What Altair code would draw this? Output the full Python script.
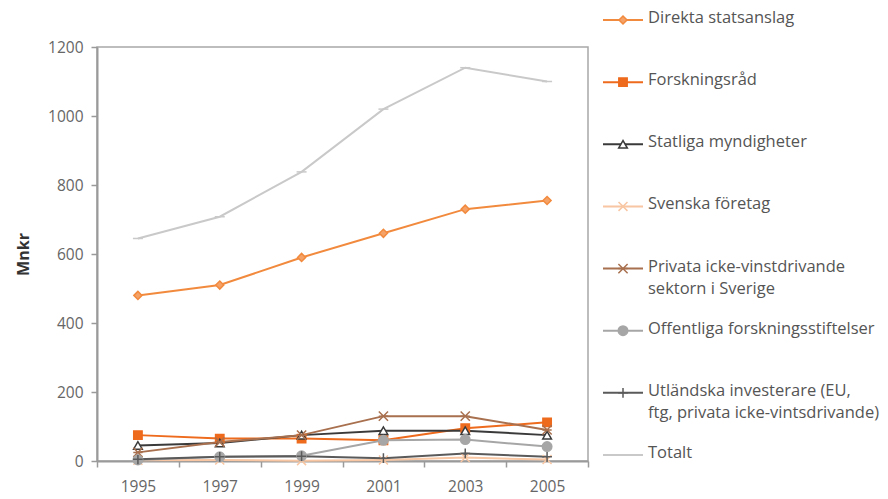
import altair as alt
import pandas as pd

years = [1995, 1997, 1999, 2001, 2003, 2005]

series_names = [
    "Direkta statsanslag",
    "Forskningsråd",
    "Statliga myndigheter",
    "Svenska företag",
    "Privata icke-vinstdrivande sektorn i Sverige",
    "Offentliga forskningsstiftelser",
    "Utländska investerare (EU, ftg, privata icke-vintsdrivande)",
    "Totalt",
]
legend_labels = [
    "Direkta statsanslag",
    "Forskningsråd",
    "Statliga myndigheter",
    "Svenska företag",
    "Privata icke-vinstdrivande\nsektorn i Sverige",
    "Offentliga forskningsstiftelser",
    "Utländska investerare (EU,\nftg, privata icke-vintsdrivande)",
    "Totalt",
]

direkta = [480, 510, 590, 660, 730, 755]
forskningsrad = [75, 65, 65, 60, 95, 112]
statliga = [45, 52, 75, 88, 88, 75]
svenska = [2, 3, 1, 3, 10, 4]
privata = [25, 55, 75, 130, 130, 90]
offentliga = [3, 12, 15, 60, 62, 42]
utlandska = [5, 12, 14, 8, 22, 12]
totalt = [645, 708, 838, 1020, 1140, 1100]

values = [direkta, forskningsrad, statliga, svenska, privata, offentliga, utlandska, totalt]

line_colors = ["#F28A3E", "#EE6A1C", "#3A3A3A", "#F8C6A2", "#A8704E", "#A6A6A6", "#5A5A5A", "#C9C9C9"]
fill_colors = ["#F5A268", "#EE6A1C", "#FFFFFF", "#F8C6A2", "#A8704E", "#A6A6A6", "#5A5A5A", "#C9C9C9"]
x_path = "M-1,-1L1,1M-1,1L1,-1"
x_star = "M-1,-1L1,1M-1,1L1,-1M-1,0L1,0"
plus_path = "M0,-1L0,1M-1,0L1,0"
dash_path = "M-1,0L1,0"
shapes = ["diamond", "square", "triangle-up", x_path, x_star, "circle", plus_path, dash_path]
marker_sizes = [65, 100, 50, 40, 45, 55, 50, 30]
line_widths = [2, 2, 1.6, 1.5, 2, 1.6, 1.6, 1.5]

rows = []
for name, vals in zip(series_names, values):
    for y, v in zip(years, vals):
        rows.append({"year": y, "value": v, "series": name})
df = pd.DataFrame(rows)

leg_df = pd.DataFrame({"series": series_names, "label": legend_labels})

color_scale = alt.Scale(domain=series_names, range=line_colors)
fill_scale = alt.Scale(domain=series_names, range=fill_colors)
shape_scale = alt.Scale(domain=series_names, range=shapes)
size_pt_scale = alt.Scale(domain=series_names, range=marker_sizes)
width_scale = alt.Scale(domain=series_names, range=line_widths)

x_enc = alt.X(
    "year:Q",
    scale=alt.Scale(domain=[1994, 2006], nice=False, zero=False),
    axis=alt.Axis(
        values=list(range(1994, 2007)),
        format="d",
        labelExpr="datum.value % 2 == 1 ? datum.label : ''",
        tickOpacity={"condition": {"test": "datum.value % 2 == 0", "value": 1}, "value": 0},
        title=None,
        grid=False,
        tickSize=6,
        labelPadding=12,
        labelOverlap=False,
    ),
)
y_enc = alt.Y(
    "value:Q",
    scale=alt.Scale(domain=[0, 1200], nice=False),
    axis=alt.Axis(
        values=[0, 200, 400, 600, 800, 1000, 1200],
        format="d",
        title="Mnkr",
        grid=False,
        tickSize=6,
        labelPadding=8,
        titlePadding=16,
        titleFontWeight="bold",
        titleFontSize=16,
        titleColor="#333333",
    ),
)

base = alt.Chart(df)
lines = base.mark_line().encode(
    x=x_enc,
    y=y_enc,
    color=alt.Color("series:N", scale=color_scale, legend=None),
    strokeWidth=alt.StrokeWidth("series:N", scale=width_scale, legend=None),
    detail="series:N",
)
points = base.mark_point(opacity=1, strokeWidth=1.5).encode(
    x=alt.X("year:Q"),
    y=alt.Y("value:Q"),
    stroke=alt.Stroke("series:N", scale=color_scale, legend=None),
    fill=alt.Fill("series:N", scale=fill_scale, legend=None),
    shape=alt.Shape("series:N", scale=shape_scale, legend=None),
    size=alt.Size("series:N", scale=size_pt_scale, legend=None),
)
main = alt.layer(lines, points)

leg_y = alt.Y(
    "series:N",
    sort=series_names,
    scale=alt.Scale(type="point", domain=series_names, range=[-27, 408], padding=0),
    axis=None,
)
leg_base = alt.Chart(leg_df)
leg_rule = leg_base.mark_rule().encode(
    x=alt.value(506),
    x2=alt.value(546),
    y=leg_y,
    color=alt.Color("series:N", scale=color_scale, legend=None),
    strokeWidth=alt.StrokeWidth("series:N", scale=width_scale, legend=None),
)
leg_pt = leg_base.mark_point(opacity=1, strokeWidth=1.5).encode(
    x=alt.value(526),
    y=leg_y,
    stroke=alt.Stroke("series:N", scale=color_scale, legend=None),
    fill=alt.Fill("series:N", scale=fill_scale, legend=None),
    shape=alt.Shape("series:N", scale=shape_scale, legend=None),
    size=alt.Size("series:N", scale=size_pt_scale, legend=None),
)
leg_text = leg_base.mark_text(
    align="left", baseline="top", dy=-10, lineBreak="\n", lineHeight=22,
    font="Open Sans", fontSize=16.5, color="#555555",
).encode(
    x=alt.value(551),
    y=leg_y,
    text="label:N",
)
legend = alt.layer(leg_rule, leg_pt, leg_text)

chart = alt.layer(main, legend).resolve_scale(y="independent").properties(
    width=491,
    height=414,
    autosize=alt.AutoSizeParams(type="none"),
    padding={"left": 89, "top": 39, "right": 292, "bottom": 36},
).configure_view(
    stroke="#A8A8A8", strokeWidth=1.5
).configure_axis(
    domainColor="#9A9A9A",
    domainWidth=2,
    tickColor="#9A9A9A",
    tickWidth=1.5,
    labelFont="Open Sans",
    labelFontSize=15.5,
    labelColor="#666666",
    titleFont="Open Sans",
)

chart.save("out.html", embed_options={"renderer": "svg", "actions": False})
